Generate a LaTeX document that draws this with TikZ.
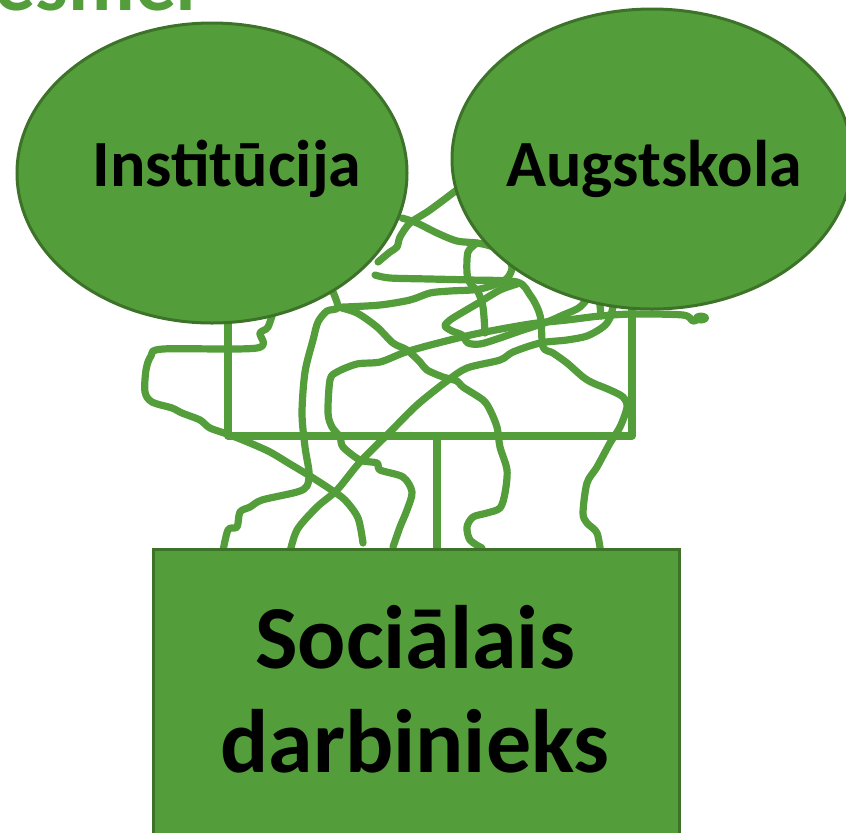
\documentclass[tikz,border=0pt]{standalone}
\usepackage{fontspec}
\setmainfont{Carlito}
\usetikzlibrary{shapes.geometric}
\definecolor{gfill}{RGB}{83,158,58}
\definecolor{gdark}{RGB}{61,115,40}
\pgfdeclarelayer{back}
\pgfsetlayers{back,main}
\begin{document}
\begin{tikzpicture}[x=0.5pt,y=-0.5pt,
 wline/.style={draw=gfill, line width=3.6pt, line cap=round, line join=round},
 blob/.style={ellipse, draw=gdark, fill=gfill, line width=1.5pt, inner sep=0pt},
 box/.style={rectangle, draw=gdark, fill=gfill, line width=1.5pt, inner sep=0pt},
 lbl/.style={font=\fontsize{33pt}{36pt}\selectfont\bfseries, text=black, inner sep=0pt, anchor=base},
 big/.style={font=\fontsize{45pt}{52pt}\selectfont\bfseries, text=black, inner sep=0pt, anchor=base},
 ttl/.style={font=\fontsize{41pt}{44pt}\selectfont\bfseries, text=gfill, inner sep=0pt, anchor=base west},
]
\useasboundingbox (0,0) rectangle (846,832);
\begin{scope}
\clip (0,0) rectangle (846,832);
\node[ttl] (title) at (-6,10) {esmer};

\node[blob, minimum width=195pt, minimum height=150pt] (inst) at (212,173) {};
\node[blob, minimum width=200pt, minimum height=150pt] (aug) at (652,159) {};

\begin{pgfonlayer}{back}
% bracket
\coordinate (bl) at (228,315);
\coordinate (blc) at (228,436);
\coordinate (brc) at (632,436);
\coordinate (br) at (632,300);
\coordinate (bm) at (437,436);
\coordinate (bb) at (437,560);
\draw[wline] (bl) -- (blc) -- (brc) -- (br);
\draw[wline] (bm) -- (bb);
% tangle
\draw[wline] plot[smooth, tension=0.5] coordinates {(275,306) (268,327) (260,333) (257,348) (163,349) (151,356) (146,370) (145,392) (152,402) (172,408) (182,413) (200,420) (210,428) (230,435) (250,443) (270,452) (290,464) (310,476) (330,489) (345,500) (358,518) (363,543)};
\draw[wline] plot[smooth, tension=0.5] coordinates {(330,285) (338,307) (327,311) (318,322) (313,340) (305,372) (302,413) (305,447) (309,472) (307,486) (297,492) (262,500) (250,507) (240,512) (237,527) (228,530) (222,556)};
\draw[wline] plot[smooth, tension=0.5] coordinates {(289,556) (297,530) (317,507) (337,490) (360,462) (390,432) (417,405) (447,381) (467,368) (500,360) (513,352) (540,343) (567,340) (587,336) (603,327) (610,318) (614,302)};
\draw[wline] plot[smooth, tension=0.5] coordinates {(393,547) (400,527) (407,510) (412,492) (403,477) (380,470) (377,463) (360,460) (343,447) (340,437) (332,427) (328,413) (330,380) (337,372) (357,364) (380,362) (403,353) (423,347) (450,340) (480,333) (530,324) (567,320) (600,316) (633,314) (683,315) (693,321) (700,318)};
\fill[gfill] (701,318) ellipse [x radius=8, y radius=5.5];
\draw[wline] plot[smooth, tension=0.5] coordinates {(462,186) (430,210) (410,223) (400,237) (397,247) (390,252) (378,262)};
\draw[wline] plot[smooth, tension=0.5] coordinates {(402,218) (417,223) (437,233) (457,241) (477,243) (493,247) (507,257) (512,268) (505,280) (480,289) (450,291) (430,293) (410,300) (380,305) (345,307) (338,307)};
\draw[wline] plot[smooth, tension=0.5] coordinates {(375,275) (390,278) (430,279) (470,280) (517,282) (530,295) (537,307) (541,320) (543,347) (553,353) (567,363) (583,377) (593,383) (610,390) (623,397) (627,407) (620,427) (610,443) (597,467) (587,483) (583,513) (587,523) (597,533) (601,555)};
\draw[wline] plot[smooth, tension=0.5] coordinates {(338,307) (357,313) (377,327) (393,343) (407,350) (420,362) (427,370) (443,377) (457,381) (463,387) (483,400) (490,410) (497,427) (500,447) (507,470) (505,493) (500,508) (487,513) (473,517) (467,527) (470,540) (482,548)};
\draw[wline] plot[smooth, tension=0.5] coordinates {(477,243) (468,252) (467,273) (470,283) (478,292) (483,307) (485,333)};
\draw[wline] plot[smooth, tension=0.5] coordinates {(517,284) (500,290) (480,302) (463,312) (450,320) (445,326) (452,331) (462,335) (468,343) (480,344) (497,339) (520,331) (547,322) (563,315) (580,307) (594,290)};
\draw[wline] (599,295) -- (601,316);
\end{pgfonlayer}

\node[box, minimum width=263pt, minimum height=150pt, anchor=north west] (sd) at (152,548) {};

\node[lbl] (tinst) at (227,186) {Institūcija};
\node[lbl] (taug) at (654,186) {Augstskola};
\node[big] (t1) at (415,668) {Sociālais};
\node[big] (t2) at (415,772) {darbinieks};
\end{scope}
\end{tikzpicture}
\end{document}
